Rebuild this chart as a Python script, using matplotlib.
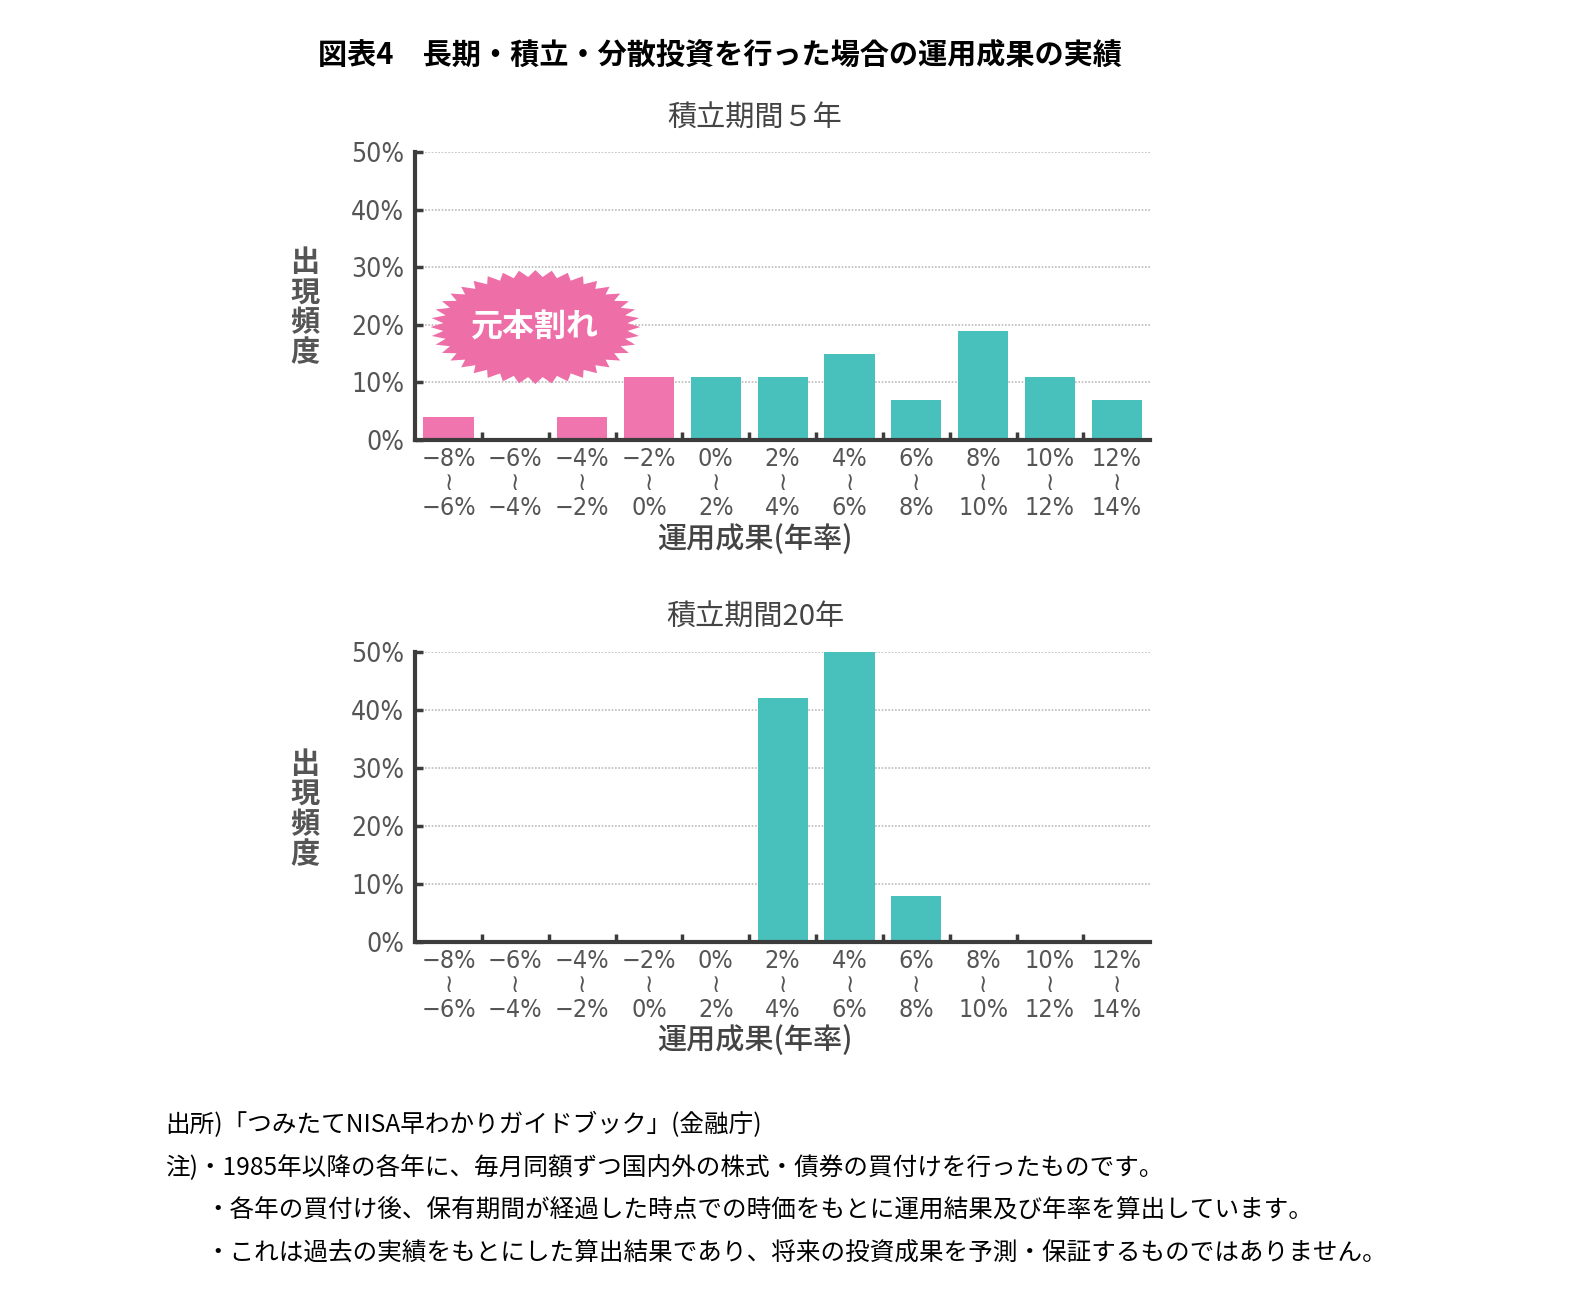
import numpy as np
import matplotlib.pyplot as plt
from matplotlib.patches import Polygon

plt.rcParams['font.family'] = ['Noto Sans CJK JP', 'DejaVu Sans']

# categories (annual return bands, %)
lower = [-8, -6, -4, -2, 0, 2, 4, 6, 8, 10, 12]
upper = [-6, -4, -2, 0, 2, 4, 6, 8, 10, 12, 14]
# frequency of occurrence (%)
freq_5y = [4, 0, 4, 11, 11, 11, 15, 7, 19, 11, 7]
freq_20y = [0, 0, 0, 0, 0, 42, 50, 8, 0, 0, 0]
yticks = [0, 10, 20, 30, 40, 50]


def pct(v):
    return ('−' if v < 0 else '') + f'{abs(v)}%'


xlabels = [pct(a) + '\n≀\n' + pct(b) for a, b in zip(lower, upper)]
colors = ['#f075ae' if a < 0 else '#48c1bd' for a in lower]

tick_font = dict(family=['DejaVu Sans'], stretch='condensed', weight='light')
dark = '#3c3c3c'
grey = '#555555'


def draw(ax, freq, subtitle, xlab_y):
    x = np.arange(len(freq))
    ax.bar(x, freq, width=0.75, color=colors, zorder=3)
    ax.set_xlim(-0.5, len(freq) - 0.5)
    ax.set_ylim(0, 50)

    ax.set_yticks(yticks)
    ax.set_yticklabels([f'{v}%' for v in yticks], fontsize=19, color=grey, **tick_font)
    ax.set_xticks(x)
    ax.set_xticklabels(xlabels, fontsize=18, color=grey, **tick_font)
    for t in ax.get_xticklabels():
        t.set_linespacing(1.02)
    ax.set_xticks(x[:-1] + 0.5, minor=True)

    ax.tick_params(axis='x', which='major', length=0, pad=5)
    ax.tick_params(axis='x', which='minor', direction='in', length=6, width=2.5, color=dark)
    ax.tick_params(axis='y', direction='in', length=6, width=2.5, color=dark, pad=8)

    for s in ['top', 'right']:
        ax.spines[s].set_visible(False)
    for s in ['left', 'bottom']:
        ax.spines[s].set_linewidth(3)
        ax.spines[s].set_color(dark)
        ax.spines[s].set_zorder(5)

    ax.yaxis.grid(True, linestyle=(0, (1, 1)), color='#bbbbbb', linewidth=1.2, zorder=0)
    ax.set_axisbelow(True)

    ax.text(0.4626, xlab_y, '運用成果(年率)', transform=ax.transAxes, ha='center',
            va='center', fontsize=21, fontweight='medium', color='#444444')
    ax.text(-0.15, 0.46, '\n'.join('出現頻度'), transform=ax.transAxes, ha='center',
            va='center', fontsize=21, fontweight='bold', color=grey, linespacing=1.0)
    ax.text(0.4626, 1.12, subtitle, transform=ax.transAxes, ha='center', va='center',
            fontsize=21, color='#444444')


fig = plt.figure(figsize=(15.71, 13.02), dpi=100)
ax1 = fig.add_axes([0.2642, 0.6621, 0.468, 0.2212])
ax2 = fig.add_axes([0.2642, 0.2765, 0.468, 0.2227])

draw(ax1, freq_5y, '積立期間５年', -0.347)
draw(ax2, freq_20y, '積立期間20年', -0.338)

# "元本割れ" starburst badge
cx, cy, a, b = 1.3, 19.6, 1.57, 9.9
n = 80
t = np.linspace(0, 2 * np.pi, n, endpoint=False)
r = np.where(np.arange(n) % 2 == 0, 1.0, 0.88)
star = np.column_stack([cx + a * r * np.cos(t), cy + b * r * np.sin(t)])
ax1.add_patch(Polygon(star, closed=True, facecolor='#ee6fa8', edgecolor='none', zorder=6))
ax1.text(cx, cy, '元本割れ', ha='center', va='center', fontsize=23, fontweight='bold',
         color='white', zorder=7)

fig.text(0.458, 1 - 55 / 1302, '図表4　長期・積立・分散投資を行った場合の運用成果の実績',
         ha='center', va='center', fontsize=21, fontweight='bold', color='black')

notes_x = 165 / 1571
fs = 17.7
fig.text(notes_x, 1 - 1125 / 1302, '出所)「つみたてNISA早わかりガイドブック」(金融庁)',
         ha='left', va='center', fontsize=fs)
fig.text(notes_x, 1 - 1167 / 1302, '注)・1985年以降の各年に、毎月同額ずつ国内外の株式・債券の買付けを行ったものです。',
         ha='left', va='center', fontsize=fs)
fig.text(205 / 1571, 1 - 1210 / 1302, '・各年の買付け後、保有期間が経過した時点での時価をもとに運用結果及び年率を算出しています。',
         ha='left', va='center', fontsize=fs)
fig.text(205 / 1571, 1 - 1253 / 1302, '・これは過去の実績をもとにした算出結果であり、将来の投資成果を予測・保証するものではありません。',
         ha='left', va='center', fontsize=fs)

fig.savefig('out.png', dpi=100)
